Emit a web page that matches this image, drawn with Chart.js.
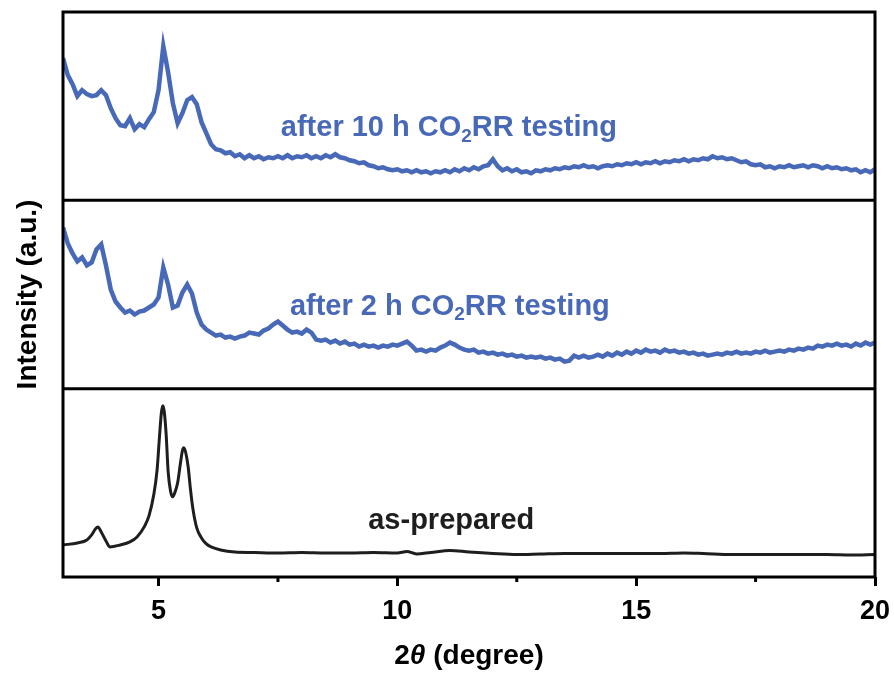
<!DOCTYPE html>
<html>
<head>
<meta charset="utf-8">
<script src="https://cdn.jsdelivr.net/npm/chart.js@4.4.1/dist/chart.umd.min.js"></script>
<style>
  html, body { margin: 0; padding: 0; background: #fff; }
</style>
</head>
<body>
<canvas id="xrdChart" width="894" height="675"></canvas>
<script>
"use strict";

// 2theta grid (degree) of the two measured patterns after testing
const angles = [
  3.0, 3.1, 3.2, 3.3, 3.4, 3.5, 3.6, 3.7, 3.8, 3.9,
  4.0, 4.1, 4.2, 4.3, 4.4, 4.5, 4.6, 4.7, 4.8, 4.9,
  5.0, 5.1, 5.2, 5.3, 5.4, 5.5, 5.6, 5.7, 5.8, 5.9,
  6.0, 6.1, 6.2, 6.3, 6.4, 6.5, 6.6, 6.7, 6.8, 6.9,
  7.0, 7.1, 7.2, 7.3, 7.4, 7.5, 7.6, 7.7, 7.8, 7.9,
  8.0, 8.1, 8.2, 8.3, 8.4, 8.5, 8.6, 8.7, 8.8, 8.9,
  9.0, 9.1, 9.2, 9.3, 9.4, 9.5, 9.6, 9.7, 9.8, 9.9,
  10.0, 10.1, 10.2, 10.3, 10.4, 10.5, 10.6, 10.7, 10.8, 10.9,
  11.0, 11.1, 11.2, 11.3, 11.4, 11.5, 11.6, 11.7, 11.8, 11.9,
  12.0, 12.1, 12.2, 12.3, 12.4, 12.5, 12.6, 12.7, 12.8, 12.9,
  13.0, 13.1, 13.2, 13.3, 13.4, 13.5, 13.6, 13.7, 13.8, 13.9,
  14.0, 14.1, 14.2, 14.3, 14.4, 14.5, 14.6, 14.7, 14.8, 14.9,
  15.0, 15.1, 15.2, 15.3, 15.4, 15.5, 15.6, 15.7, 15.8, 15.9,
  16.0, 16.1, 16.2, 16.3, 16.4, 16.5, 16.6, 16.7, 16.8, 16.9,
  17.0, 17.1, 17.2, 17.3, 17.4, 17.5, 17.6, 17.7, 17.8, 17.9,
  18.0, 18.1, 18.2, 18.3, 18.4, 18.5, 18.6, 18.7, 18.8, 18.9,
  19.0, 19.1, 19.2, 19.3, 19.4, 19.5, 19.6, 19.7, 19.8, 19.9,
  20.0
];

// top panel: after 10 h CO2RR testing
const after10h = [
  142, 125, 116, 104, 110, 106, 104, 105, 110, 105,
  92, 82, 75, 74, 82, 71, 76, 73, 81, 88,
  110, 154, 128, 97, 77, 87, 100, 103, 96, 78,
  67, 56, 51, 50, 47, 48, 44, 46, 42, 45,
  42, 44, 41, 43, 42, 44, 42, 45, 42, 44,
  43, 45, 42, 44, 42, 45, 43, 46, 43, 42,
  40, 39, 37, 38, 35, 34, 32, 33, 31, 30,
  31, 29, 30, 28, 30, 28, 29, 27, 29, 28,
  30, 28, 31, 29, 32, 30, 33, 31, 34, 35,
  41, 34, 30, 32, 29, 31, 28, 29, 27, 30,
  29, 31, 30, 32, 31, 33, 32, 34, 33, 35,
  33, 34, 32, 34, 35, 34, 36, 35, 37, 36,
  38, 36, 38, 37, 39, 37, 39, 38, 40, 39,
  41, 39, 41, 40, 42, 41, 44, 42, 43, 41,
  42, 40, 38, 39, 36, 35, 36, 33, 34, 32,
  34, 33, 35, 33, 34, 35, 33, 35, 34, 32,
  34, 32, 33, 31, 32, 30, 31, 28, 30, 28,
  31
];

// middle panel: after 2 h CO2RR testing
const after2h = [
  161, 145, 135, 127, 131, 123, 126, 139, 144, 123,
  99, 87, 81, 76, 78, 74, 77, 78, 81, 84,
  91, 121, 104, 81, 83, 96, 104, 95, 76, 64,
  59, 56, 53, 54, 51, 52, 50, 52, 53, 56,
  55, 54, 58, 60, 64, 67, 63, 59, 56, 57,
  55, 59, 56, 49, 48, 49, 46, 48, 45, 47,
  44, 45, 42, 44, 42, 43, 41, 43, 42, 44,
  43, 45, 47, 43, 38, 39, 37, 39, 38, 41,
  43, 46, 44, 41, 39, 38, 39, 36, 37, 35,
  36, 34, 35, 33, 34, 32, 33, 31, 32, 31,
  32, 30, 31, 29, 30, 27, 28, 33, 31, 33,
  31, 32, 34, 32, 35, 33, 36, 34, 37, 35,
  38, 36, 39, 37, 38, 36, 39, 37, 38, 36,
  37, 35, 36, 34, 35, 33, 34, 35, 34, 36,
  35, 37, 35, 36, 35, 37, 36, 38, 36, 37,
  38, 37, 39, 38, 40, 39, 41, 40, 43, 42,
  44, 43, 45, 43, 44, 42, 45, 43, 46, 44,
  46
];

// bottom panel: as-prepared sample
const asPrepAngles = [
  3.0, 3.3, 3.5, 3.6, 3.68, 3.73, 3.8, 3.9, 3.98,
  4.2, 4.4, 4.55, 4.7, 4.8, 4.9, 4.97,
  5.02, 5.06, 5.09, 5.12, 5.16, 5.2, 5.25, 5.29, 5.34, 5.4,
  5.46, 5.5, 5.53, 5.57, 5.62, 5.67, 5.72, 5.8, 5.9,
  6.0, 6.1, 6.3, 6.6, 7.0, 7.5, 8.0, 8.5, 9.0, 9.5,
  10.0, 10.2, 10.4, 10.7, 11.1, 11.5, 12.0, 12.5, 13.0, 13.5,
  14.0, 14.5, 15.0, 15.5, 16.0, 16.4, 17.0, 17.5, 18.0, 18.5,
  19.0, 19.5, 20.0
];
const asPrepared = [
  32, 34, 37, 42, 48, 50, 45, 36, 30,
  32, 35, 40, 50, 61, 82, 107,
  140, 164, 171, 165, 142, 106, 86, 80, 84, 94,
  114, 126, 129, 124, 110, 87, 68, 49, 39,
  33, 30, 27, 25, 24.5, 24, 24.5, 24, 24, 24.5,
  24, 25.5, 23, 24.5, 26.5, 25, 23.5, 22.5, 23, 23.5,
  23.5, 23.5, 23.5, 23.5, 24, 23.5, 22.5, 22.5, 22.5, 22.5,
  22.5, 22, 22.5
];

const xTicks = [5, 7.5, 10, 12.5, 15, 17.5, 20];
const xLabelled = [5, 10, 15, 20];

const blue = "#4868b8";
const dark = "#1e1e1e";
const fontFamily = "'Liberation Sans', Arial, Helvetica, sans-serif";

const toPoints = (xs, ys) => xs.map((x, i) => ({ x: x, y: ys[i] }));

// text placed in each panel (anchor in data units of that panel)
const panelNotes = [
  { axis: "yTop", x: 7.56, y: 72, color: blue, parts: [["after 10 h CO"], ["2", true], ["RR testing"]] },
  { axis: "yMid", x: 7.75, y: 82, color: blue, parts: [["after 2 h CO"], ["2", true], ["RR testing"]] },
  { axis: "yBot", x: 9.39, y: 56, color: dark, parts: [["as-prepared"]] }
];

function drawParts(ctx, x, y, parts, size) {
  let cx = x;
  for (const [txt, sub] of parts) {
    if (sub) {
      ctx.font = "bold " + Math.round(size * 0.65) + "px " + fontFamily;
      ctx.fillText(txt, cx, y + size * 0.3);
    } else {
      ctx.font = "bold " + size + "px " + fontFamily;
      ctx.fillText(txt, cx, y);
    }
    cx += ctx.measureText(txt).width;
  }
}

const framePlugin = {
  id: "frame",
  afterDatasetsDraw(chart) {
    const ctx = chart.ctx;
    const a = chart.chartArea;
    const s = chart.scales;
    ctx.save();
    ctx.strokeStyle = "#000";
    ctx.lineWidth = 3;
    ctx.strokeRect(a.left, a.top, a.right - a.left, a.bottom - a.top);
    ctx.beginPath();
    for (const id of ["yTop", "yMid"]) {
      ctx.moveTo(a.left, s[id].bottom);
      ctx.lineTo(a.right, s[id].bottom);
    }
    // minor ticks
    for (const v of xTicks) {
      if (xLabelled.includes(v)) continue;
      const px = s.x.getPixelForValue(v);
      ctx.moveTo(px, a.bottom);
      ctx.lineTo(px, a.bottom + 5);
    }
    ctx.stroke();

    // panel labels
    ctx.textBaseline = "middle";
    ctx.textAlign = "left";
    for (const n of panelNotes) {
      ctx.fillStyle = n.color;
      drawParts(ctx, s.x.getPixelForValue(n.x), s[n.axis].getPixelForValue(n.y), n.parts, 29);
    }

    // x title: 2θ (degree) with italic theta
    ctx.fillStyle = "#000";
    const seg = [["2", "bold"], ["\u03B8", "italic bold"], [" (degree)", "bold"]];
    let total = 0;
    for (const [t, w] of seg) { ctx.font = w + " 28px " + fontFamily; total += ctx.measureText(t).width; }
    let cx = (a.left + a.right) / 2 - total / 2;
    const ty = a.bottom + 79;
    for (const [t, w] of seg) {
      ctx.font = w + " 28px " + fontFamily;
      ctx.fillText(t, cx, ty);
      cx += ctx.measureText(t).width;
    }

    // y title
    ctx.translate(28, (a.top + a.bottom) / 2);
    ctx.rotate(-Math.PI / 2);
    ctx.textAlign = "center";
    ctx.font = "bold 28px " + fontFamily;
    ctx.fillText("Intensity (a.u.)", 0, 0);
    ctx.restore();
  }
};

const panelAxis = {
  type: "linear",
  position: "left",
  stack: "xrd",
  stackWeight: 1,
  min: 0,
  max: 188,
  offset: false,
  ticks: { display: false },
  grid: { display: false, drawTicks: false },
  border: { display: false },
  afterFit(scale) { scale.width = 0; }
};

new Chart(document.getElementById("xrdChart"), {
  type: "line",
  data: {
    datasets: [
      {
        label: "after 10 h CO2RR testing",
        data: toPoints(angles, after10h),
        yAxisID: "yTop",
        borderColor: blue,
        borderWidth: 4.5,
        pointRadius: 0,
        tension: 0
      },
      {
        label: "after 2 h CO2RR testing",
        data: toPoints(angles, after2h),
        yAxisID: "yMid",
        borderColor: blue,
        borderWidth: 4.5,
        pointRadius: 0,
        tension: 0
      },
      {
        label: "as-prepared",
        data: toPoints(asPrepAngles, asPrepared),
        yAxisID: "yBot",
        borderColor: dark,
        borderWidth: 3,
        pointRadius: 0,
        cubicInterpolationMode: "monotone"
      }
    ]
  },
  options: {
    responsive: false,
    animation: false,
    layout: { padding: { left: 63, right: 19, top: 12, bottom: 0 } },
    plugins: {
      legend: { display: false },
      tooltip: { enabled: false }
    },
    scales: {
      x: {
        type: "linear",
        position: "bottom",
        min: 3,
        max: 20,
        afterBuildTicks(scale) { scale.ticks = xTicks.map(v => ({ value: v })); },
        afterFit(scale) {
          scale.height = 98;
          scale.paddingLeft = 0;
          scale.paddingRight = 0;
        },
        ticks: {
          autoSkip: false,
          maxRotation: 0,
          padding: 9,
          color: "#000",
          font: { family: fontFamily, size: 27, weight: "bold" },
          callback: v => (xLabelled.includes(v) ? String(v) : "")
        },
        grid: {
          drawOnChartArea: false,
          drawTicks: true,
          tickLength: 9,
          tickWidth: 3,
          tickColor: ctx => (ctx.tick && xLabelled.includes(ctx.tick.value) ? "#000" : "rgba(0,0,0,0)")
        },
        border: { display: false }
      },
      // stacked left axes are laid out bottom-up
      yBot: Object.assign({}, panelAxis),
      yMid: Object.assign({}, panelAxis),
      yTop: Object.assign({}, panelAxis)
    }
  },
  plugins: [framePlugin]
});
</script>
</body>
</html>
